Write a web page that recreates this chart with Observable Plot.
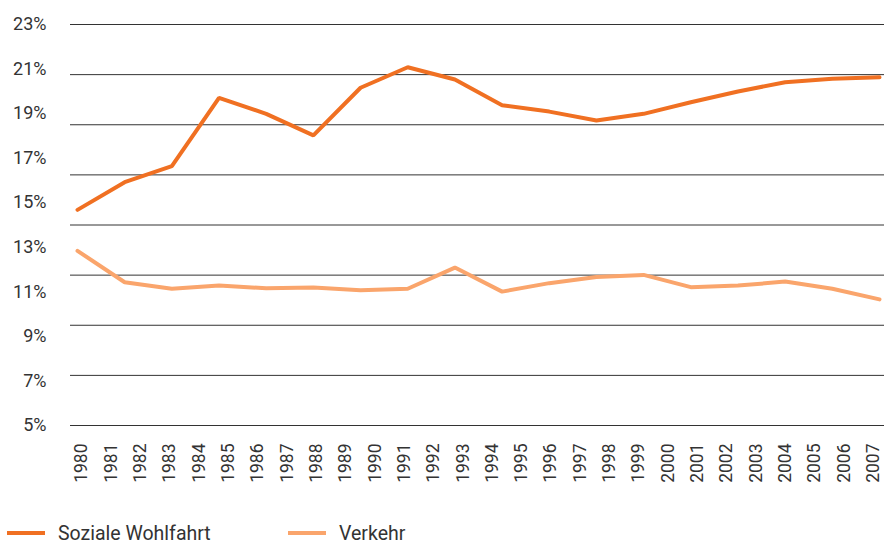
<!DOCTYPE html>
<html>
<head>
<meta charset="utf-8">
<script src="https://cdn.jsdelivr.net/npm/d3@7"></script>
<script src="https://cdn.jsdelivr.net/npm/@observablehq/plot@0.6"></script>
<style>
  html, body { margin: 0; padding: 0; background: #fff; overflow: hidden; }
  #chart { width: 884px; height: 515px; }
  .legend { display: flex; align-items: center; height: 30px; margin-top: 3px; padding-left: 7px;
            font-family: Roboto, sans-serif; font-size: 19.5px; color: #333; }
  .item { display: flex; align-items: center; }
  .item:first-child { width: 281px; }
  .sw { width: 38px; height: 4px; margin-right: 13px; }
</style>
</head>
<body>
<div id="chart"></div>
<div class="legend">
  <div class="item"><span class="sw" style="background:#F07022"></span><span>Soziale Wohlfahrt</span></div>
  <div class="item"><span class="sw" style="background:#FAA56C"></span><span>Verkehr</span></div>
</div>
<script>
const years = [1980,1981,1982,1983,1984,1985,1986,1987,1988,1989,1990,1991,1992,1993,
               1994,1995,1996,1997,1998,1999,2000,2001,2002,2003,2004,2005,2006,2007];
const yTicks = [5,7,9,11,13,15,17,19,21,23];
const gridValues = [5,7.25,9.5,11.75,14,16.25,18.5,20.75,23];
const pointIndex = [0,1,2,3,4,5,6,7,8,9,10,11,12,13,14,15,16,17];
const sozialeWohlfahrt = [14.68,15.92,16.64,19.71,18.99,18.02,20.16,21.08,20.53,19.38,19.09,18.69,18.99,19.51,19.99,20.41,20.56,20.63];
const verkehr = [12.84,11.43,11.14,11.28,11.16,11.19,11.07,11.14,12.09,11.01,11.39,11.67,11.76,11.21,11.28,11.46,11.14,10.66];

const data = [
  ...pointIndex.map((i) => ({i, v: sozialeWohlfahrt[i], s: "Soziale Wohlfahrt"})),
  ...pointIndex.map((i) => ({i, v: verkehr[i], s: "Verkehr"}))
];
const last = pointIndex[pointIndex.length - 1];
// year labels are spread evenly along the axis, slightly inside the line's end points
const labelStart = 0.09, labelEnd = last - 0.13;
const yearTickPos = years.map((y, k) => labelStart + k * (labelEnd - labelStart) / (years.length - 1));

const chart = Plot.plot({
  width: 884,
  height: 515,
  marginLeft: 70,
  marginRight: 0,
  marginTop: 24,
  marginBottom: 90,
  style: {fontFamily: "Roboto, sans-serif", fontSize: "18px", color: "#333", background: "#fff"},
  x: {domain: [0, last], insetLeft: 7, insetRight: 5},
  y: {domain: [5, 23]},
  color: {domain: ["Soziale Wohlfahrt", "Verkehr"], range: ["#F07022", "#FAA56C"]},
  marks: [
    Plot.ruleY(gridValues, {stroke: "#333", strokeWidth: 1, strokeOpacity: 1}),
    Plot.axisY({ticks: yTicks, tickSize: 0, tickPadding: 24, tickFormat: (d) => d + "%", label: null, fill: "#333"}),
    Plot.axisX({ticks: yearTickPos, tickSize: 0, tickPadding: 18, tickRotate: -90, fontSize: 17.5,
                tickFormat: (d, k) => String(years[k]), label: null, fill: "#333"}),
    Plot.line(data, {x: "i", y: "v", z: "s", stroke: "s", strokeWidth: 4, strokeLinejoin: "miter"})
  ]
});
document.getElementById("chart").appendChild(chart);
</script>
</body>
</html>
